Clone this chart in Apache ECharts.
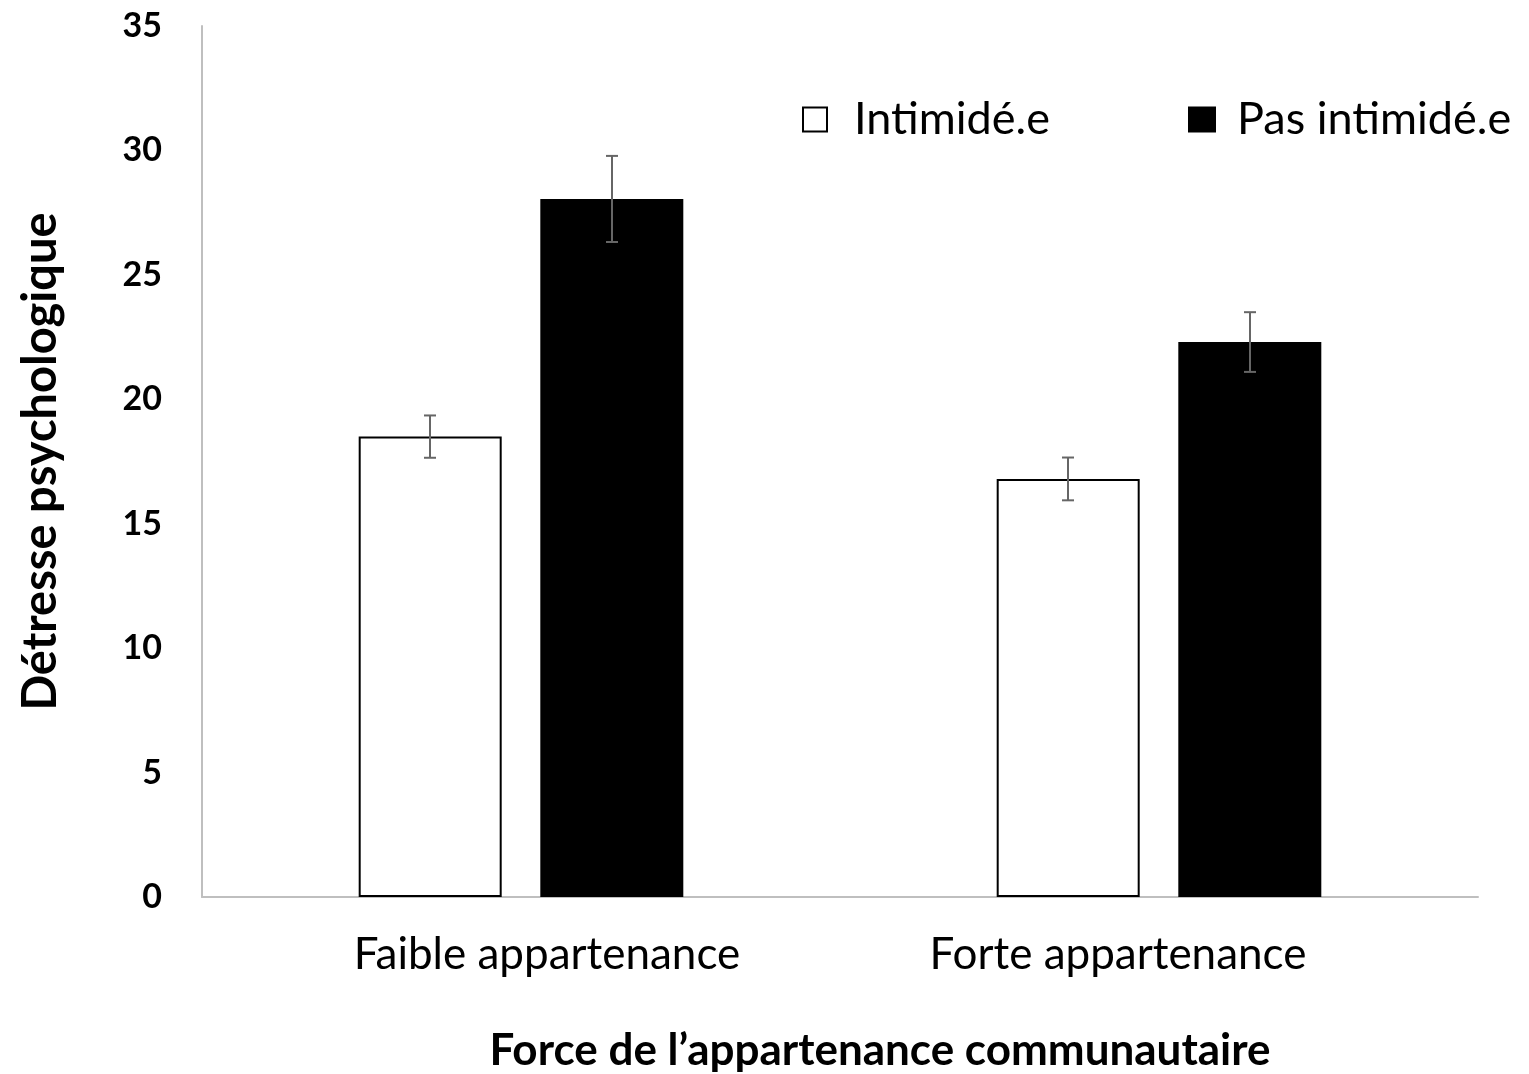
<!DOCTYPE html>
<html><head><meta charset="utf-8">
<script src="https://cdn.jsdelivr.net/npm/echarts@6/dist/echarts.min.js"></script>
<style>html,body{margin:0;padding:0;background:#fff}#c{width:1529px;height:1074px}</style>
</head><body><div id="c"></div>
<script>
var categories = ['Faible appartenance', 'Forte appartenance'];
var seriesNames = ['Intimidé.e', 'Pas intimidé.e'];
var intimide = [18.5, 16.8];
var pasIntimide = [28.05, 22.3];
var errIntimide = [0.85, 0.86];
var errPasIntimide = [1.73, 1.2];
var yTicks = [0, 5, 10, 15, 20, 25, 30, 35];

var FONT = 'Lato, Carlito, "Open Sans", sans-serif';
var chart = echarts.init(document.getElementById('c'));

function errSeries(vals, errs, offset) {
  var data = vals.map(function (v, i) { return [i, v - errs[i], v + errs[i]]; });
  return {
    type: 'custom', silent: true, z: 10,
    data: data,
    encode: { x: 0, y: [1, 2] },
    renderItem: function (params, api) {
      var lo = api.coord([api.value(0), api.value(1)]);
      var hi = api.coord([api.value(0), api.value(2)]);
      var x = lo[0] + offset, cap = 6;
      var st = { stroke: '#666666', lineWidth: 2 };
      return { type: 'group', children: [
        { type: 'line', shape: { x1: x, y1: lo[1], x2: x, y2: hi[1] }, style: st },
        { type: 'line', shape: { x1: x - cap, y1: lo[1], x2: x + cap, y2: lo[1] }, style: st },
        { type: 'line', shape: { x1: x - cap, y1: hi[1], x2: x + cap, y2: hi[1] }, style: st }
      ]};
    }
  };
}

chart.setOption({
  animation: false,
  backgroundColor: '#fff',
  grid: { left: 202, right: 51, top: 26, bottom: 177, outerBoundsMode: 'none', containLabel: false },
  legend: [
    { data: [{ name: seriesNames[0], icon: 'rect' }], left: 797, top: 92, itemWidth: 24, itemHeight: 24,
      textStyle: { fontFamily: FONT, fontSize: 45, color: '#000', padding: [0, 0, 0, 22] } },
    { data: [{ name: seriesNames[1], icon: 'rect' }], left: 1183, top: 92, itemWidth: 28, itemHeight: 26,
      textStyle: { fontFamily: FONT, fontSize: 45, color: '#000', padding: [0, 0, 0, 16] } }
  ],
  xAxis: {
    type: 'category', data: categories,
    axisLine: { lineStyle: { color: '#bfbfbf', width: 2 } },
    axisTick: { show: false },
    axisLabel: { fontFamily: FONT, fontSize: 44, color: '#000', margin: 36,
      formatter: function (v, i) { return i === 0 ? '{a|' + v + '}' : '{b|' + v + '}'; },
      rich: {
        a: { fontFamily: FONT, fontSize: 44, color: '#000', padding: [0, 0, 0, 52] },
        b: { fontFamily: FONT, fontSize: 44, color: '#000', padding: [0, 82, 0, 0] }
      } },
    name: 'Force de l\u2019appartenance communautaire', nameLocation: 'middle', nameGap: 132,
    nameTextStyle: { fontFamily: FONT, fontSize: 44, fontWeight: 'bold', color: '#000', padding: [0, 0, 0, 80] }
  },
  yAxis: {
    type: 'value', min: 0, max: 35, interval: 5,
    axisLine: { show: true, lineStyle: { color: '#bfbfbf', width: 2 } },
    axisTick: { show: false },
    splitLine: { show: false },
    axisLabel: { fontFamily: FONT, fontSize: 34, fontWeight: 'bold', color: '#000', margin: 40,
      formatter: function (v) { return yTicks.indexOf(v) >= 0 ? String(v) : ''; } },
    name: 'Détresse psychologique', nameLocation: 'middle', nameGap: 138, nameRotate: 90,
    nameTextStyle: { fontFamily: FONT, fontSize: 47, fontWeight: 'bold', color: '#000' }
  },
  series: [
    { name: seriesNames[0], type: 'bar', data: intimide, barWidth: 143, barGap: '27%',
      itemStyle: { color: '#ffffff', borderColor: '#000', borderWidth: 2 } },
    { name: seriesNames[1], type: 'bar', data: pasIntimide, barWidth: 143,
      itemStyle: { color: '#000000', borderColor: '#000', borderWidth: 0 } },
    errSeries(intimide, errIntimide, -91),
    errSeries(pasIntimide, errPasIntimide, 91)
  ]
});
</script></body></html>
